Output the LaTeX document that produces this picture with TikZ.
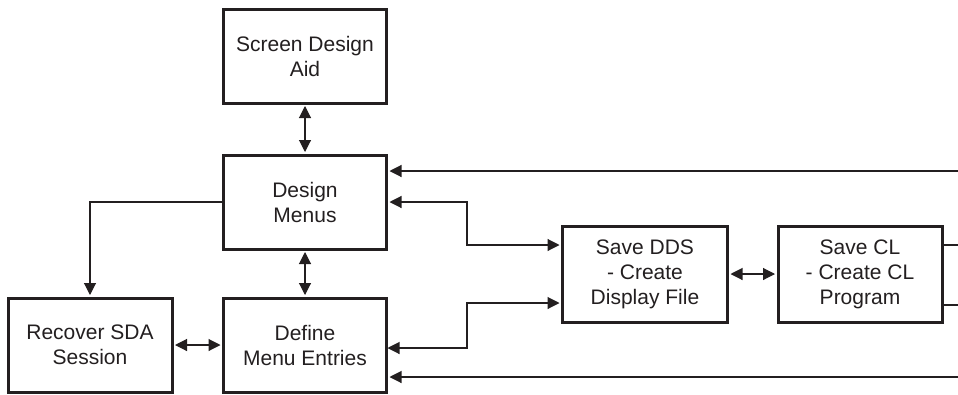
\documentclass[tikz,border=0pt]{standalone}
\usepackage{fontspec}
\setmainfont{Liberation Sans}
\usetikzlibrary{arrows.meta}
\definecolor{ink}{HTML}{231F20}
\tikzset{
  box/.style={draw=ink, line width=3pt, fill=white, text=ink, align=center,
    inner sep=0pt, font=\fontsize{21}{25}\selectfont},
  link/.style={draw=ink, line width=1.1pt},
  one/.style={link, -{Triangle[length=12pt,width=12pt]}, shorten >=1.5pt},
  two/.style={link, {Triangle[length=12pt,width=12pt]}-{Triangle[length=12pt,width=12pt]},
    shorten >=1.5pt, shorten <=1.5pt},
}
\begin{document}
\begin{tikzpicture}[x=1pt,y=-1pt]
  \useasboundingbox (0,0) rectangle (958,394);

  % boxes
  \node[box, minimum width=163pt, minimum height=94pt] (sda) at (305,56) {Screen Design\\Aid};
  \node[box, minimum width=163pt, minimum height=94pt] (dm)  at (305,202) {Design\\Menus};
  \node[box, minimum width=163pt, minimum height=94pt] (dme) at (305,345) {Define\\Menu Entries};
  \node[box, minimum width=164pt, minimum height=94pt] (rss) at (90,345) {Recover SDA\\Session};
  \node[box, minimum width=165pt, minimum height=96pt] (dds) at (645,274) {Save DDS\\- Create\\Display File};
  \node[box, minimum width=164pt, minimum height=96pt] (cl)  at (860,274) {Save CL\\- Create CL\\Program};

  % junction and off-page points
  \coordinate (topin) at (958,171);
  \coordinate (botin) at (958,377);
  \coordinate (ja) at (467,245);
  \coordinate (jb) at (467,303);
  \coordinate (jc) at (386,348);
  \coordinate (outa) at (958,245);
  \coordinate (outb) at (958,305);

  % vertical links between the menu boxes
  \draw[two] (sda.south) -- (dm.north);
  \draw[two] (dm.south) -- (dme.north);

  % recovery path
  \draw[one] (dm.west) -| (rss.north);
  \draw[two] (rss.east) -- (dme.west);

  % links to the save steps
  \draw[two] (dm.east) -| (ja) -- (ja -| dds.west);
  \draw[two] (jc) -| (jb) -- (jb -| dds.west);
  \draw[two] (dds.east) -- (cl.west);

  % returns from the right
  \draw[one] (topin) -- (topin -| dm.east);
  \draw[one] (botin) -- (botin -| dme.east);

  % exits from Save CL
  \draw[link] (outa -| cl.east) -- (outa);
  \draw[link] (outb -| cl.east) -- (outb);
\end{tikzpicture}
\end{document}
